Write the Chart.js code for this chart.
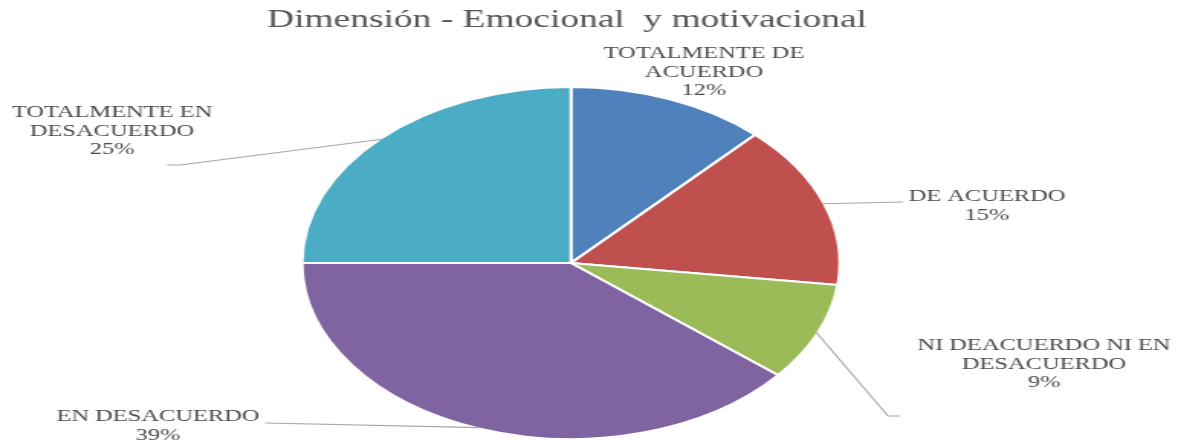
<!DOCTYPE html>
<html>
<head>
<meta charset="utf-8">
<script src="https://cdn.jsdelivr.net/npm/chart.js@4/dist/chart.umd.min.js"></script>
<style>
html,body{margin:0;padding:0;background:#fff;overflow:hidden;width:1178px;height:440px;}
#c{display:block;transform:scaleX(1.52789);transform-origin:0 0;}
</style>
</head>
<body>
<canvas id="c" width="771" height="440"></canvas>
<script>
const chartTitle = 'Dimensión - Emocional  y motivacional';
const categories = [
  ['TOTALMENTE DE', 'ACUERDO'],
  ['DE ACUERDO'],
  ['NI DEACUERDO NI EN', 'DESACUERDO'],
  ['EN DESACUERDO'],
  ['TOTALMENTE EN', 'DESACUERDO']
];
const percentages = [12, 15, 9, 39, 25];
const sliceColors = ['#4F81BD', '#C0504D', '#9BBB59', '#8064A2', '#4BACC6'];

const S = 1178 / 771; // horizontal stretch of the page
// label layout in page pixels: centre x, first line centre y
const labelPos = [
  {x: 704, y: 54},
  {x: 987, y: 197},
  {x: 1044, y: 346},
  {x: 158, y: 417},
  {x: 112, y: 113}
];
// leader line end points in page pixels
const leaders = [
  null,
  [[903, 202]],
  [[888, 416], [900, 416]],
  [[265, 423]],
  [[180, 165], [167, 165]]
];

const labelPlugin = {
  id: 'labels',
  afterDraw(chart) {
    const ctx = chart.ctx;
    const meta = chart.getDatasetMeta(0);
    ctx.save();
    // title
    ctx.fillStyle = '#555555';
    ctx.textAlign = 'center';
    ctx.textBaseline = 'middle';
    ctx.font = '24.5px "Liberation Serif", serif';
    ctx.fillText(chartTitle, 567 / S, 21);
    // leader lines
    ctx.strokeStyle = '#A6A6A6';
    ctx.lineWidth = 1.1;
    meta.data.forEach((arc, i) => {
      if (!leaders[i]) return;
      const p = arc.getProps(['x', 'y', 'startAngle', 'endAngle', 'outerRadius'], true);
      const mid = (p.startAngle + p.endAngle) / 2;
      const r = p.outerRadius - 1;
      ctx.beginPath();
      ctx.moveTo(p.x + Math.cos(mid) * r, p.y + Math.sin(mid) * r);
      leaders[i].forEach(pt => ctx.lineTo(pt[0] / S, pt[1]));
      ctx.stroke();
    });
    // labels
    ctx.font = '16px "Liberation Serif", serif';
    ctx.fillStyle = '#4A4A4A';
    const lh = 18.5;
    categories.forEach((lines, i) => {
      const pos = labelPos[i];
      const all = lines.concat([percentages[i] + '%']);
      all.forEach((t, k) => ctx.fillText(t, pos.x / S, pos.y + k * lh));
    });
    ctx.restore();
  }
};

new Chart(document.getElementById('c'), {
  type: 'pie',
  data: {
    labels: categories,
    datasets: [{
      data: percentages,
      backgroundColor: sliceColors,
      borderColor: '#ffffff',
      borderWidth: 2
    }]
  },
  options: {
    responsive: false,
    animation: false,
    devicePixelRatio: 1,
    layout: {padding: {top: 86, bottom: 0, left: 196.7, right: 220.3}},
    plugins: {legend: {display: false}, tooltip: {enabled: false}, title: {display: false}}
  },
  plugins: [labelPlugin]
});
</script>
</body>
</html>
